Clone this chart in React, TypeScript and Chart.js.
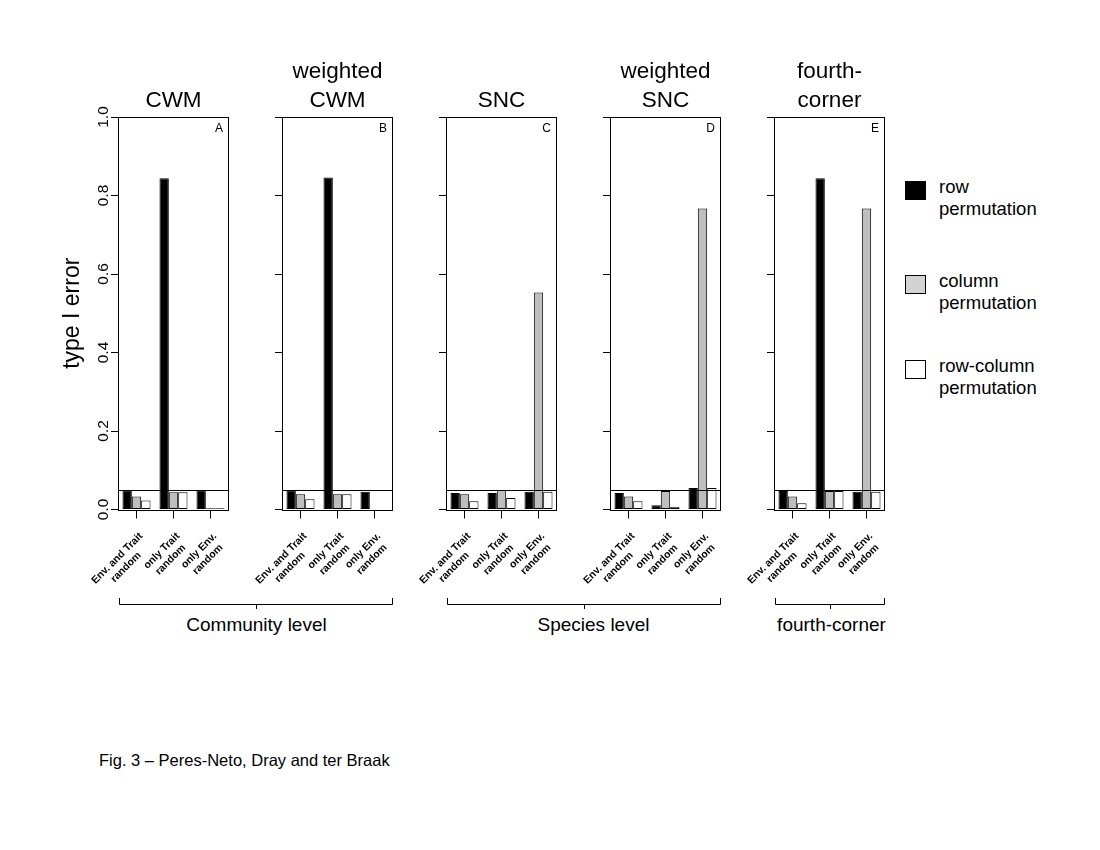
import React, { useEffect, useRef } from "react";
import { Chart, registerables } from "chart.js";

Chart.register(...registerables);

const FONT = '"Liberation Sans", Arial, Helvetica, sans-serif';

// x groups and panel headers
const groupLabels = [
	["Env. and Trait", "random"],
	["only Trait", "random"],
	["only Env.", "random"],
];
const panelTitles = [["CWM"], ["weighted", "CWM"], ["SNC"], ["weighted", "SNC"], ["fourth-", "corner"]];
const panelLetters = ["A", "B", "C", "D", "E"];

// permutation schemes (legend)
const seriesNames = [
	["row", "permutation"],
	["column", "permutation"],
	["row-column", "permutation"],
];
const barColors = ["#000000", "#bebebe", "#ffffff"];
const legendColors = ["#000000", "#d3d3d3", "#ffffff"];

// type I error, one array per scheme and panel
const rowA = [0.049, 0.844, 0.049];
const colA = [0.033, 0.044, 0.003];
const rcA = [0.023, 0.044, 0.003];

const rowB = [0.049, 0.846, 0.045];
const colB = [0.039, 0.039, 0];
const rcB = [0.026, 0.039, 0];

const rowC = [0.042, 0.042, 0.045];
const colC = [0.039, 0.05, 0.553];
const rcC = [0.021, 0.029, 0.045];

const rowD = [0.042, 0.011, 0.055];
const colD = [0.033, 0.047, 0.767];
const rcD = [0.021, 0.007, 0.055];

const rowE = [0.047, 0.844, 0.045];
const colE = [0.033, 0.047, 0.767];
const rcE = [0.016, 0.047, 0.045];

const panelData = [
	[rowA, colA, rcA],
	[rowB, colB, rcB],
	[rowC, colC, rcC],
	[rowD, colD, rcD],
	[rowE, colE, rcE],
];

const yTicks = [0, 0.2, 0.4, 0.6, 0.8, 1.0];
const ALPHA = 0.05; // nominal level, drawn as a horizontal line

const brackets = [
	{ text: "Community level", from: 0, to: 1, dx: 0 },
	{ text: "Species level", from: 2, to: 3, dx: 9 },
	{ text: "fourth-corner", from: 4, to: 4, dx: 1 },
];

// layout (page pixels)
const PANEL_X0 = 118;
const PANEL_STEP = 164;
const PANEL_W = 111;
const CANVAS_TOP = 40;
const CANVAS_H = 600;
const PLOT_TOP = 117;
const PLOT_H = 392.5;
const LEFT_SPACE = 70;
const RIGHT_SPACE = 15;

const panelLeft = (i: number) => PANEL_X0 + i * PANEL_STEP;

const makeDecor = (index: number) => ({
	id: "panelDecor",
	afterDatasetsDraw(chart: any) {
		const { ctx, chartArea } = chart;
		const { left, top, right, bottom } = chartArea;
		const xs = chart.scales.x;
		const ys = chart.scales.y;
		ctx.save();
		ctx.strokeStyle = "#000";
		ctx.fillStyle = "#000";
		ctx.lineWidth = 1;

		// reference line at alpha
		const ya = Math.round(ys.getPixelForValue(ALPHA)) + 0.5;
		ctx.beginPath();
		ctx.moveTo(left, ya);
		ctx.lineTo(right, ya);
		ctx.stroke();

		// box
		const l = Math.round(left) + 0.5;
		const t = Math.round(top) + 0.5;
		const r = Math.round(right) - 0.5;
		const b = Math.round(bottom) + 0.5;
		ctx.strokeRect(l, t, r - l, b - t);

		// title
		const title = panelTitles[index];
		ctx.font = `22.5px ${FONT}`;
		ctx.textAlign = "center";
		ctx.textBaseline = "alphabetic";
		const cx = (left + right) / 2;
		title.forEach((line, j) => {
			ctx.fillText(line, cx, top - 10 - (title.length - 1 - j) * 29);
		});

		// panel letter
		ctx.font = `12px ${FONT}`;
		ctx.textAlign = "right";
		ctx.fillText(panelLetters[index], right - 6, top + 15);

		// rotated group labels
		ctx.font = `bold 10.4px ${FONT}`;
		ctx.textAlign = "center";
		ctx.textBaseline = "middle";
		(chart.data.labels as string[][]).forEach((lines, i) => {
			const tx = xs.getPixelForTick(i);
			const w = Math.max(...lines.map((s) => ctx.measureText(s).width));
			ctx.save();
			ctx.translate(tx + 9, bottom + 29.5);
			ctx.rotate(-Math.PI / 4);
			lines.forEach((s, j) => {
				ctx.fillText(s, -w / 2, (j - (lines.length - 1) / 2) * 12.5);
			});
			ctx.restore();
		});

		// y tick labels and axis title on the first panel only
		if (index === 0) {
			ctx.font = `15.5px ${FONT}`;
			yTicks.forEach((v) => {
				ctx.save();
				ctx.translate(left - 14, ys.getPixelForValue(v));
				ctx.rotate(-Math.PI / 2);
				ctx.fillText(v.toFixed(1), 0, 0);
				ctx.restore();
			});
			ctx.font = `23px ${FONT}`;
			ctx.save();
			ctx.translate(left - 45, (top + bottom) / 2);
			ctx.rotate(-Math.PI / 2);
			ctx.fillText("type I error", 0, 0);
			ctx.restore();
		}
		ctx.restore();
	},
});

const Panel: React.FC<{ index: number }> = ({ index }) => {
	const chartRef = useRef<HTMLCanvasElement>(null);

	useEffect(() => {
		if (!chartRef.current) return;
		const ctx = chartRef.current.getContext("2d");
		if (!ctx) return;

		const chart = new Chart(ctx, {
			type: "bar",
			data: {
				labels: groupLabels,
				datasets: panelData[index].map((values, k) => ({
					label: seriesNames[k].join(" "),
					data: values,
					backgroundColor: barColors[k],
					borderColor: "#000000",
					borderWidth: 1,
					borderSkipped: false,
					barPercentage: 1,
					categoryPercentage: 3 / 3.96,
				})),
			},
			options: {
				responsive: true,
				maintainAspectRatio: false,
				animation: false,
				events: [],
				layout: {
					padding: { top: PLOT_TOP - CANVAS_TOP, right: RIGHT_SPACE, left: 0, bottom: 0 },
				},
				plugins: {
					legend: { display: false },
					tooltip: { enabled: false },
				},
				scales: {
					x: {
						grid: {
							display: true,
							drawOnChartArea: false,
							drawTicks: true,
							tickLength: 9,
							color: "#000000",
							offset: false,
						},
						border: { display: false },
						ticks: { display: false },
						afterFit: (scale: any) => {
							scale.height = CANVAS_H - (PLOT_TOP - CANVAS_TOP) - PLOT_H;
						},
					},
					y: {
						min: 0,
						max: 1,
						afterBuildTicks: (scale: any) => {
							scale.ticks = yTicks.map((v) => ({ value: v }));
						},
						grid: {
							display: true,
							drawOnChartArea: false,
							drawTicks: true,
							tickLength: 7,
							color: "#000000",
						},
						border: { display: false },
						ticks: { display: false },
						afterFit: (scale: any) => {
							scale.width = LEFT_SPACE;
						},
					},
				},
			} as any,
			plugins: [makeDecor(index)],
		});

		return () => {
			chart.destroy();
		};
	}, [index]);

	return (
		<div
			style={{
				position: "absolute",
				left: panelLeft(index) - LEFT_SPACE,
				top: CANVAS_TOP,
				width: LEFT_SPACE + PANEL_W + RIGHT_SPACE,
				height: CANVAS_H,
			}}
		>
			<canvas ref={chartRef}></canvas>
		</div>
	);
};

const legendTops = [181, 275, 360];

const App: React.FC = () => {
	return (
		<div
			style={{
				position: "absolute",
				left: 0,
				top: 0,
				width: 1100,
				height: 850,
				background: "#ffffff",
				fontFamily: FONT,
			}}
		>
			<svg
				width={1100}
				height={850}
				style={{ position: "absolute", left: 0, top: 0 }}
				fontFamily={FONT}
			>
				{brackets.map((b) => {
					const x1 = panelLeft(b.from) + 1.5;
					const x2 = panelLeft(b.to) + PANEL_W - 0.5;
					const mid = Math.round((x1 + x2) / 2) + 0.5;
					return (
						<g key={b.text}>
							<path
								d={`M${x1} 598 V604.5 H${x2} V598 M${mid} 604.5 V609`}
								stroke="#000"
								strokeWidth={1}
								fill="none"
							/>
							<text x={mid + b.dx} y={631} textAnchor="middle" fontSize={19}>
								{b.text}
							</text>
						</g>
					);
				})}
				{seriesNames.map((lines, k) => (
					<g key={k}>
						<rect
							x={905.5}
							y={legendTops[k] + 0.5}
							width={20}
							height={18}
							fill={legendColors[k]}
							stroke="#000"
							strokeWidth={1}
						/>
						{lines.map((s, j) => (
							<text key={j} x={939} y={legendTops[k] + 12 + j * 21.5} fontSize={18.5}>
								{s}
							</text>
						))}
					</g>
				))}
				<text x={99} y={766} fontSize={16.5}>
					Fig. 3 – Peres-Neto, Dray and ter Braak
				</text>
			</svg>
			{panelData.map((_, i) => (
				<Panel key={i} index={i} />
			))}
		</div>
	);
};

export default App;
